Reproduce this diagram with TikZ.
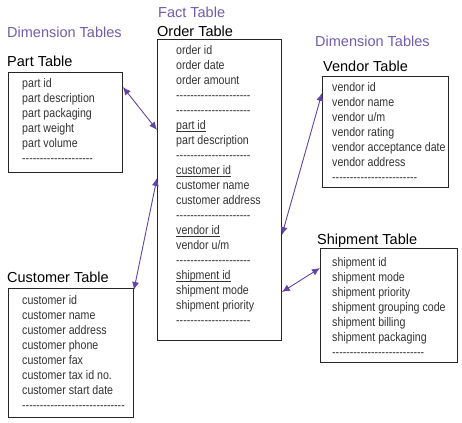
\documentclass[tikz,border=0pt]{standalone}
\usepackage{fontspec}
\setmainfont{Liberation Sans}
\newfontfamily\rowfont[FakeStretch=0.85]{Liberation Sans}
\usetikzlibrary{arrows.meta}
\definecolor{linkpurple}{RGB}{98,68,168}
\definecolor{headpurple}{RGB}{112,92,172}
\newcommand{\dashrow}[1]{\foreach\k in {1,...,#1}{-}}
\newcommand{\keyfield}[1]{\underline{\smash{#1}}}

\begin{document}
\begin{tikzpicture}[x=1pt,y=-1pt,
  every node/.style={inner sep=0pt},
  tbl/.style={draw=black!85,line width=0.9pt,anchor=north west},
  rows/.style={anchor=north west,align=left,text=black!80,font={\rowfont\fontsize{12.5}{15}\selectfont}},
  title/.style={anchor=base west,font={\fontsize{14.5}{17}\selectfont}},
  head/.style={title,text=headpurple},
  link/.style={linkpurple,line width=0.9pt,{Latex[length=8pt,width=7pt]}-{Latex[length=8pt,width=7pt]}}]
\useasboundingbox (0,0) rectangle (462,422);
\node[head] (lefthead) at (7,38) {Dimension Tables};
\node[head] (facthead) at (158,18) {Fact Table};
\node[head] (righthead) at (315,47) {Dimension Tables};
\node[title] (parttitle) at (7,67) {Part Table};
\node[title] (ordertitle) at (157,37) {Order Table};
\node[title] (vendortitle) at (323,72) {Vendor Table};
\node[title] (customertitle) at (7,282) {Customer Table};
\node[title] (shipmenttitle) at (317,244) {Shipment Table};
\node[tbl,minimum width=114pt,minimum height=100pt] (part) at (8,72) {};
\node[rows] (partrows) at (22,78.5) {part id\\part description\\part packaging\\part weight\\part volume\\\dashrow{20}};
\node[tbl,minimum width=124pt,minimum height=301pt] (order) at (157,39) {};
\node[rows] (orderrows) at (176,45.5) {order id\\order date\\order amount\\\dashrow{21}\\\dashrow{21}\\\keyfield{part id}\\part description\\\dashrow{21}\\\keyfield{customer id}\\customer name\\customer address\\\dashrow{21}\\\keyfield{vendor id}\\vendor u/m\\\dashrow{21}\\\keyfield{shipment id}\\shipment mode\\shipment priority\\\dashrow{21}};
\node[tbl,minimum width=126pt,minimum height=111pt] (vendor) at (322,76) {};
\node[rows] (vendorrows) at (332,82.5) {vendor id\\vendor name\\vendor u/m\\vendor rating\\vendor acceptance date\\vendor address\\\dashrow{24}};
\node[tbl,minimum width=125pt,minimum height=129pt] (customer) at (8,288) {};
\node[rows] (customerrows) at (22,295.5) {customer id\\customer name\\customer address\\customer phone\\customer fax\\customer tax id no.\\customer start date\\\dashrow{29}};
\node[tbl,minimum width=137pt,minimum height=114pt] (shipment) at (320,248) {};
\node[rows] (shipmentrows) at (332,257.5) {shipment id\\shipment mode\\shipment priority\\shipment grouping code\\shipment billing\\shipment packaging\\\dashrow{26}};
\draw[link] ([yshift=-15pt]part.north east) -- ([yshift=-91pt]order.north west);
\draw[link] ([yshift=-2pt]customer.north east) -- ([yshift=-139pt]order.north west);
\draw[link] ([yshift=-17pt]vendor.north west) -- ([yshift=-196pt]order.north east);
\draw[link] ([yshift=-20pt]shipment.north west) -- ([yshift=-253pt]order.north east);
\end{tikzpicture}
\end{document}
